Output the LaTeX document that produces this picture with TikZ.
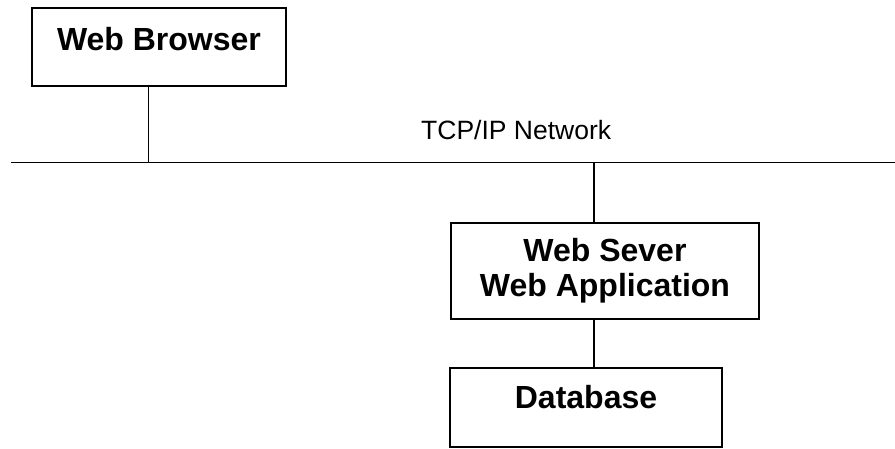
\documentclass[tikz,border=0pt]{standalone}
\usepackage{fontspec}
\setmainfont{Liberation Sans}
\begin{document}
\begin{tikzpicture}[x=1pt,y=-1pt,
  boxnode/.style={draw, line width=1.4pt, inner sep=0pt, align=center,
    font=\fontsize{32}{35}\selectfont\bfseries},
  wire/.style={line width=1.4pt},
  netlabel/.style={inner sep=0pt, font=\fontsize{26.5}{30}\selectfont}]
\useasboundingbox (0,0) rectangle (895,449);
\node[boxnode, minimum width=254pt, minimum height=78pt, text height=23pt, text depth=15pt]
  (browser) at (159,47) {Web Browser};
\node[boxnode, minimum width=308pt, minimum height=96pt]
  (server) at (605,271) {Web Sever\\Web Application};
\node[boxnode, minimum width=272pt, minimum height=79pt, text height=23pt, text depth=22pt]
  (db) at (586,407.5) {Database};
\coordinate (netL) at (11,162.5);
\coordinate (netR) at (895,162.5);
\coordinate (tapB) at (148.5,162.5);
\coordinate (tapS) at (594,162.5);
\node[netlabel, anchor=base west] (net) at (421,140) {TCP/IP Network};
\draw[wire] (netL) -- (netR);
\draw[wire] (browser.south -| tapB) -- (tapB);
\draw[wire] (tapS) -- (server.north -| tapS);
\draw[wire] (server.south -| tapS) -- (db.north -| tapS);
\end{tikzpicture}
\end{document}
